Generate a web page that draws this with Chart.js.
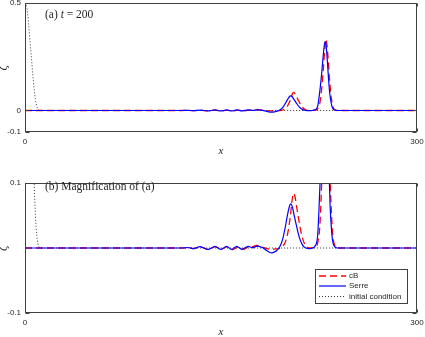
<!DOCTYPE html>
<html><head><meta charset="utf-8">
<script src="https://cdn.jsdelivr.net/npm/chart.js@4.4.0/dist/chart.umd.min.js"></script>
<style>
html,body{margin:0;padding:0;background:#fff;}
#c1{position:absolute;left:0;top:0;}
#c2{position:absolute;left:0;top:160px;}
</style></head><body>
<canvas id="c1" width="425" height="160"></canvas>
<canvas id="c2" width="425" height="177"></canvas>
<script>
// ---- data ----
const serreX = [0,120,125,129,134,140,145.5,150,154.3,158,162,166,170.8,174,178,182,185,188.7,191,193,195,197,199,201,202.5,203.3,204.5,206,208,210,212,214,216,218,220,222,224,225,226,227,228,229,229.7,230.5,231.5,232.5,233.5,234.5,235.5,237,239,300];
const serreY = [0,0,0.0008,-0.001,0.0022,-0.0022,0.0025,-0.0022,0.0026,-0.0022,0.0026,-0.002,0.0025,0.0005,0.003,0.0005,-0.004,-0.0075,-0.006,-0.003,0.002,0.012,0.03,0.052,0.065,0.068,0.064,0.05,0.032,0.016,0.006,0.001,-0.0005,-0.001,0,0.003,0.02,0.06,0.11,0.17,0.24,0.30,0.32,0.30,0.22,0.13,0.065,0.03,0.01,0.002,0,0];

const cbX = [0,120,125,129,134,140,145.5,150,154.5,159,163,167,171,174,177,180,183,186,189,192,195,197,199,201,203,204.5,205.5,206.5,208,210,212,214,216,218,222,224,225.5,226.5,227.5,228.5,229.5,230.3,231,232,233,234,235,236,237.5,239,300];
const cbY = [0,0,0.0005,-0.0008,0.0015,-0.0018,0.0018,-0.002,0.0018,-0.0025,0.0015,-0.002,0.0015,0.002,0.004,0.003,0.0005,-0.0015,-0.002,-0.0015,-0.0005,0.002,0.008,0.022,0.048,0.075,0.084,0.08,0.062,0.038,0.018,0.006,0.001,0,0.001,0.008,0.03,0.07,0.13,0.21,0.29,0.33,0.31,0.24,0.15,0.08,0.035,0.012,0.003,0,0];

const initX = [0,1,2,3,4,5,6,7,8,9,10,11,12,300];
const initY = [0.5,0.49,0.45,0.385,0.31,0.24,0.165,0.1,0.05,0.02,0.006,0.001,0,0];

const xTicks = [0,300];
const yTicksA = [-0.1,0,0.5];
const yTicksB = [-0.1,0.1];
const seriesNames = ['cB','Serre','initial condition'];
const panelA = ['(a) ', 't', ' = 200'];
const panelB = ['(b) Magnification of (a)'];

// ---- helpers ----
const pts = (xs, ys) => xs.map((x,i)=>({x:x, y:ys[i]}));
const TXT = '#262626';
const FRAME = '#404040';
const styles = {
  cB:{borderColor:'#ff0000', borderWidth:1.3, borderDash:[7,4]},
  Serre:{borderColor:'#0000ff', borderWidth:1.2, borderDash:[]},
  init:{borderColor:'#333333', borderWidth:1, borderDash:[1,2]}
};
function datasets(){
  return [
    Object.assign({label:seriesNames[0], data:pts(cbX,cbY), order:1}, styles.cB),
    Object.assign({label:seriesNames[1], data:pts(serreX,serreY), order:0}, styles.Serre),
    Object.assign({label:seriesNames[2], data:pts(initX,initY), order:2}, styles.init)
  ].map(d=>Object.assign(d,{pointRadius:0, fill:false, cubicInterpolationMode:'monotone'}));
}

const decorPlugin = {
  id:'decor',
  afterDraw(chart, args, opts){
    const {ctx, chartArea:a} = chart;
    ctx.save();
    // frame
    ctx.strokeStyle = FRAME; ctx.lineWidth = 1;
    const L=Math.round(a.left)+0.5, T=Math.round(a.top)+0.5, R=Math.round(a.right)-0.5, B=Math.round(a.bottom)-0.5;
    ctx.strokeRect(L, T, R-L, B-T);
    // inward ticks
    const ys = chart.scales.y, xs = chart.scales.x;
    ctx.beginPath();
    ys.ticks.forEach(t=>{ const p=Math.round(ys.getPixelForValue(t.value))+0.5;
      ctx.moveTo(L,p); ctx.lineTo(L+4,p); ctx.moveTo(R,p); ctx.lineTo(R-4,p); });
    xs.ticks.forEach(t=>{ const p=Math.round(xs.getPixelForValue(t.value))+0.5;
      ctx.moveTo(p,B); ctx.lineTo(p,B-3); ctx.moveTo(p,T); ctx.lineTo(p,T+3); });
    ctx.stroke();
    // panel label
    ctx.fillStyle = TXT; ctx.textBaseline = 'middle'; ctx.textAlign = 'left';
    let x = 45;
    opts.label.forEach((s,i)=>{
      const italic = (opts.label.length===3 && i===1);
      ctx.font = (italic?'italic ':'') + '11.5px "Liberation Serif"';
      ctx.fillText(s, x, opts.labelY);
      x += ctx.measureText(s).width;
    });
    // legend
    if (opts.legend){
      const lx=315, ly=109, lw=92, lh=34;
      ctx.fillStyle='#fff'; ctx.fillRect(lx,ly,lw,lh);
      ctx.strokeStyle=FRAME; ctx.lineWidth=1; ctx.strokeRect(lx+0.5,ly+0.5,lw,lh);
      const rows=[116,126,136.5];
      chart.data.datasets.forEach((d,i)=>{
        ctx.beginPath();
        ctx.strokeStyle=d.borderColor; ctx.lineWidth=d.borderWidth; ctx.setLineDash(d.borderDash||[]);
        ctx.moveTo(319,rows[i]); ctx.lineTo(346,rows[i]); ctx.stroke();
        ctx.setLineDash([]);
        ctx.fillStyle=TXT; ctx.font='8px "Liberation Sans"'; ctx.textBaseline='middle';
        ctx.fillText(d.label, 349, rows[i]);
      });
    }
    ctx.restore();
  }
};

function makeChart(id, ymin, ymax, yTicks, padTop, xAxisH, xTitlePad, label, labelY, legend){
  return new Chart(document.getElementById(id), {
    type:'line',
    data:{datasets:datasets()},
    plugins:[decorPlugin],
    options:{
      responsive:false, animation:false, devicePixelRatio:1,
      layout:{padding:{top:padTop, right:8, left:0, bottom:0}},
      plugins:{legend:{display:false}, tooltip:{enabled:false}, decor:{label:label, labelY:labelY, legend:legend}},
      scales:{
        x:{type:'linear', min:0, max:300,
          afterBuildTicks:s=>{ s.ticks = xTicks.map(v=>({value:v})); },
          afterFit:s=>{ s.height = xAxisH; s.paddingLeft = 0; s.paddingRight = 0; },
          grid:{display:false, drawTicks:false}, border:{display:false},
          ticks:{font:{family:'Liberation Sans', size:8}, color:TXT, padding:5, maxRotation:0, autoSkip:false, callback:v=>String(v)},
          title:{display:true, text:'x', color:TXT, font:{family:'Liberation Serif', size:11, style:'italic', lineHeight:0.8}, padding:{top:0, bottom:xTitlePad}}
        },
        y:{type:'linear', min:ymin, max:ymax,
          afterBuildTicks:s=>{ s.ticks = yTicks.map(v=>({value:v})); },
          afterFit:s=>{ s.width = 25; s.paddingTop = 0; s.paddingBottom = 0; },
          grid:{display:false, drawTicks:false}, border:{display:false},
          ticks:{font:{family:'Liberation Sans', size:8}, color:TXT, padding:4, autoSkip:false, callback:v=>String(v)},
          title:{display:true, text:'ζ', color:TXT, font:{family:'DejaVu Serif', size:11, style:'italic', lineHeight:0.7}, padding:{top:0, bottom:0}}
        }
      }
    }
  });
}

makeChart('c1', -0.1, 0.5, yTicksA, 3, 28, 4, panelA, 15, false);
makeChart('c2', -0.1, 0.1, yTicksB, 23, 24, 0, panelB, 27, true);
</script>
</body></html>
